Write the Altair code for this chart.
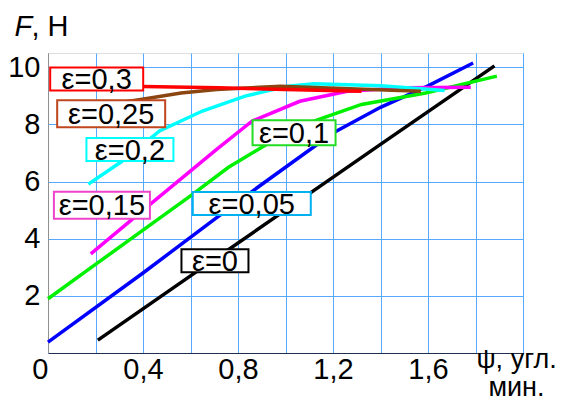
import altair as alt
import pandas as pd

# ---------------- data ----------------
x_grid = [0, 0.2, 0.4, 0.6, 0.8, 1.0, 1.2, 1.4, 1.6, 1.8, 2.0]
x_labeled = [0, 0.4, 0.8, 1.2, 1.6]
x_label_text = ["0", "0,4", "0,8", "1,2", "1,6"]
y_ticks = [2, 4, 6, 8, 10]

psi_e0 = [0.21, 0.6, 1.0, 1.4, 1.88]
F_e0 = [0.45, 2.7, 5.0, 7.3, 10.05]

psi_e005 = [0.0, 0.4, 0.8, 1.2, 1.4, 1.6, 1.79]
F_e005 = [0.38, 2.8, 5.3, 7.7, 8.6, 9.35, 10.15]

psi_e01 = [0.0, 0.2, 0.4, 0.6, 0.76, 0.92, 1.12, 1.32, 1.59, 1.89]
F_e01 = [1.9, 3.1, 4.3, 5.5, 6.5, 7.3, 8.12, 8.7, 9.1, 9.69]

psi_e015 = [0.18, 0.44, 0.71, 0.86, 1.06, 1.26, 1.5, 1.78]
F_e015 = [3.47, 5.27, 7.13, 8.12, 8.81, 9.16, 9.28, 9.3]

psi_e02 = [0.17, 0.31, 0.47, 0.65, 0.83, 1.01, 1.12, 1.4, 1.67]
F_e02 = [5.91, 6.7, 7.77, 8.47, 8.99, 9.34, 9.42, 9.35, 9.19]

psi_e025 = [0.25, 0.39, 0.56, 0.71, 0.98, 1.24, 1.57]
F_e025 = [8.7, 8.87, 9.1, 9.22, 9.34, 9.26, 9.16]

psi_e03 = [0.05, 0.4, 0.72, 1.0, 1.32]
F_e03 = [9.35, 9.33, 9.28, 9.22, 9.16]

series_names = ["ε=0", "ε=0,05", "ε=0,1", "ε=0,15", "ε=0,2", "ε=0,25", "ε=0,3"]
series_psi = [psi_e0, psi_e005, psi_e01, psi_e015, psi_e02, psi_e025, psi_e03]
series_F = [F_e0, F_e005, F_e01, F_e015, F_e02, F_e025, F_e03]

# label anchor points (data coordinates) for each curve's tag
label_psi = [0.703, 0.858, 1.036, 0.227, 0.345, 0.266, 0.205]
label_F = [3.23, 5.23, 7.71, 5.17, 7.12, 8.37, 9.59]

# ---------------- styles ----------------
line_colors = ["#000000", "#0000ff", "#00f000", "#ff00ff", "#00ffff", "#8b4510", "#ff0000"]
box_colors = ["#000000", "#00b0f0", "#22dd22", "#ee44cc", "#00ffff", "#c0461e", "#ff0000"]
box_w = [67, 118, 83, 96, 87, 108, 93]
box_h = [23, 23, 25, 27, 23, 27, 23]

FONT = "Liberation Sans"
FS = 29
GRID = "#55aaff"

W, H = 475, 300

xs = alt.Scale(domain=[0, 2], nice=False, zero=False)
ys = alt.Scale(domain=[0, 10.5], nice=False, zero=False)

label_expr = " : ".join(
    f"abs(datum.value - {v}) < 0.01 ? '{t}'" for v, t in zip(x_labeled, x_label_text)
) + " : ''"

x_axis = alt.Axis(
    values=x_grid, grid=True, gridColor=GRID, gridWidth=1, ticks=False,
    domainColor="#1f2f4f", domainWidth=1,
    labelExpr=label_expr,
    labelAlign={"condition": {"test": "datum.value < 0.01", "value": "right"}, "value": "center"},
    labelFont=FONT, labelFontSize=FS, labelColor="black", labelPadding=2,
    labelFlush=False, labelOverlap=False,
    title=["ψ, угл.", "мин."], titleX=468, titleY=14, titleAlign="center",
    titleBaseline="alphabetic", titleFont=FONT, titleFontSize=27,
    titleFontWeight="normal", titleColor="black", titleLineHeight=28,
)
y_axis = alt.Axis(
    values=y_ticks, grid=True, gridColor=GRID, gridWidth=1, ticks=False,
    domainColor="#909090", domainWidth=1,
    labelFont=FONT, labelFontSize=FS, labelColor="black", labelPadding=8,
    labelFlush=False, labelOverlap=False,
    title="F", titleFontStyle="italic", titleAngle=0, titleX=-34, titleY=-18,
    titleAlign="left", titleBaseline="alphabetic", titleFont=FONT,
    titleFontSize=FS, titleFontWeight="normal", titleColor="black",
)
y_axis_unit = alt.Axis(
    orient="right", values=y_ticks, grid=False, ticks=False, domain=False,
    labels=False, title=", Н", titleAngle=0, titleX=-492, titleY=-18,
    titleAlign="left", titleBaseline="alphabetic", titleFont=FONT,
    titleFontSize=FS, titleFontWeight="normal", titleColor="black",
)

layers = []
for i, (name, ps, fs) in enumerate(zip(series_names, series_psi, series_F)):
    df = pd.DataFrame({"psi": ps, "F": fs})
    if i == 0:
        xe = alt.X("psi:Q", scale=xs, axis=x_axis)
        ye = alt.Y("F:Q", scale=ys, axis=y_axis)
    else:
        xe = alt.X("psi:Q", scale=xs, axis=None)
        ye = alt.Y("F:Q", scale=ys, axis=None)
    layers.append(
        alt.Chart(df).mark_line(color=line_colors[i], strokeWidth=3.5, strokeCap="butt")
        .encode(x=xe, y=ye)
    )

for i, name in enumerate(series_names):
    df = pd.DataFrame({"psi": [label_psi[i]], "F": [label_F[i]], "t": [name]})
    ye_axis = y_axis_unit if i == 0 else None
    rect = alt.Chart(df).mark_rect(
        fill="white", stroke=box_colors[i], strokeWidth=2,
        xOffset=-box_w[i] / 2, x2Offset=box_w[i] / 2,
        yOffset=-box_h[i] / 2, y2Offset=box_h[i] / 2,
    ).encode(
        x=alt.X("psi:Q", scale=xs, axis=None), x2=alt.X2("psi:Q"),
        y=alt.Y("F:Q", scale=ys, axis=ye_axis), y2=alt.Y2("F:Q"),
    )
    txt = alt.Chart(df).mark_text(
        font=FONT, fontSize=FS, align="center", baseline="middle", dy=1, color="black"
    ).encode(
        x=alt.X("psi:Q", scale=xs, axis=None),
        y=alt.Y("F:Q", scale=ys, axis=None),
        text="t:N",
    )
    layers += [rect, txt]

chart = (
    alt.layer(*layers)
    .resolve_axis(x="independent", y="independent")
    .properties(
        width=W, height=H,
        autosize=alt.AutoSizeParams(type="none"),
        padding={"left": 40, "top": 45, "right": 35, "bottom": 49},
    )
    .configure_view(stroke="#a0a0a0", strokeWidth=1)
    .configure(background="white")
)

chart.save("out.html", embed_options={"renderer": "svg", "actions": False})
